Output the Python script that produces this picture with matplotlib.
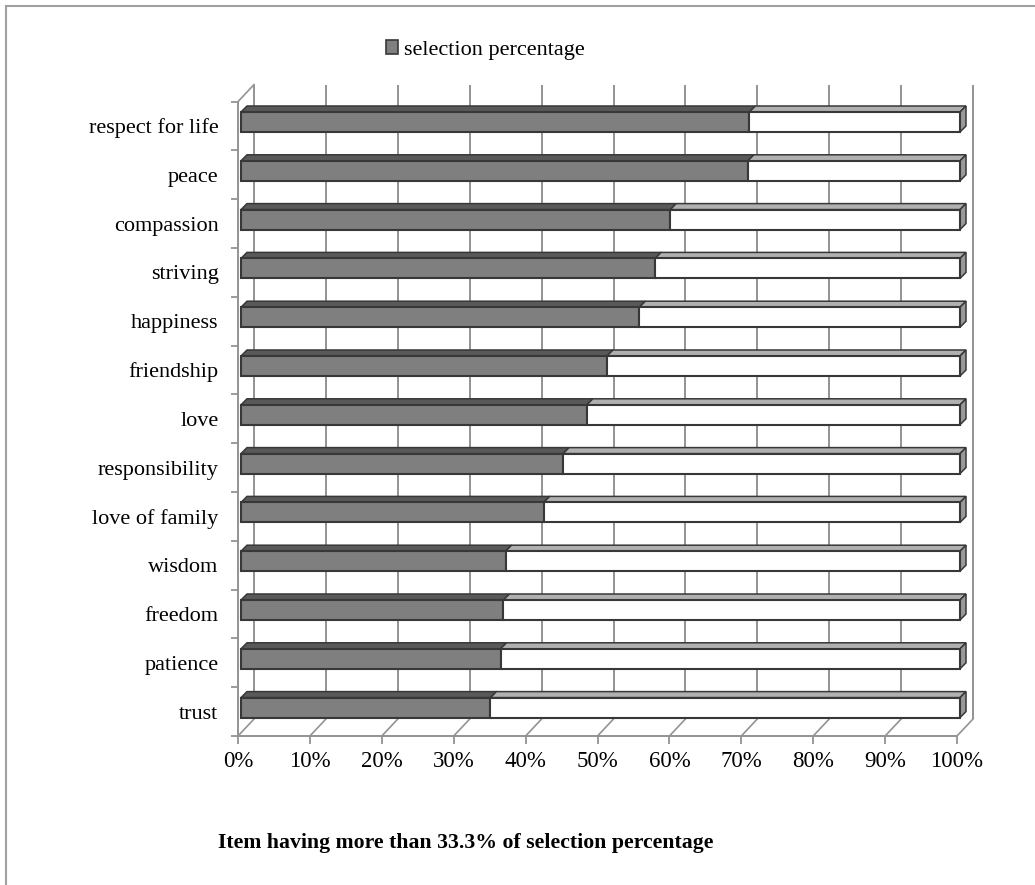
import matplotlib
matplotlib.use("Agg")
import matplotlib.pyplot as plt
from matplotlib.patches import Polygon, Patch
from matplotlib.lines import Line2D

plt.rcParams["font.family"] = ["Liberation Serif", "DejaVu Serif"]

# ── data ──────────────────────────────────────────────────────────────────────
items = ["respect for life", "peace", "compassion", "striving", "happiness",
         "friendship", "love", "responsibility", "love of family", "wisdom",
         "freedom", "patience", "trust"]
selection_pct = [70.7, 70.5, 59.7, 57.6, 55.4, 50.9, 48.1, 44.8, 42.1,
                 36.8, 36.5, 36.1, 34.7]
x_ticks = [0, 10, 20, 30, 40, 50, 60, 70, 80, 90, 100]
legend_label = "selection percentage"
title = "Item having more than 33.3% of selection percentage"

# ── style ─────────────────────────────────────────────────────────────────────
GRID = "#939393"
EDGE = "#383838"
GRAY_FRONT = "#7f7f7f"
GRAY_TOP = "#595959"
WHITE_TOP = "#b0b0b0"
SIDE = "#999999"

W, H, DPI = 1035, 885, 100
fig = plt.figure(figsize=(W / DPI, H / DPI), dpi=DPI)
fig.patch.set_facecolor("white")

# front plane of the pseudo-3D box, in pixels
ax_l, ax_r, ax_t, ax_b = 238, 957, 101.6, 736
ax = fig.add_axes([ax_l / W, 1 - ax_b / H, (ax_r - ax_l) / W, (ax_b - ax_t) / H])
n = len(items)
ypos = list(range(n))[::-1]
ax.set_xlim(0, 100)
ax.set_ylim(-0.5, n - 0.5)
ax.patch.set_visible(False)

# pixel -> data unit helpers
ux = (ax_r - ax_l) / 100
uy = (ax_b - ax_t) / n
wdx, wdy = 16 / ux, 17 / uy      # wall depth
sx, sy = 3 / ux, 4 / uy          # bar front offset from front plane
bdx, bdy = 6 / ux, 6 / uy        # bar depth
bh = 20 / uy                     # bar front height

# back wall gridlines + floor diagonals
for t in x_ticks:
    ax.plot([t + wdx, t + wdx], [-0.5 + wdy, n - 0.5 + wdy], color=GRID, lw=1.4,
            clip_on=False, zorder=1, solid_capstyle="butt")
    ax.plot([t, t + wdx], [-0.5, -0.5 + wdy], color=GRID, lw=1.2,
            clip_on=False, zorder=1)
ax.plot([0, wdx], [n - 0.5, n - 0.5 + wdy], color=GRID, lw=1.2, clip_on=False, zorder=1)

# bars: front faces
rest = [100 - v for v in selection_pct]
ybar = [y + sy for y in ypos]
ax.barh(ybar, selection_pct, left=sx, height=bh, color=GRAY_FRONT,
        edgecolor=EDGE, lw=1.5, zorder=4, clip_on=False)
ax.barh(ybar, rest, left=[sx + v for v in selection_pct], height=bh, color="white",
        edgecolor=EDGE, lw=1.5, zorder=4, clip_on=False)

# bars: top and side faces
for yc, v in zip(ybar, selection_pct):
    yb, yt = yc - bh / 2, yc + bh / 2
    faces = [
        ([(sx, yt), (sx + v, yt), (sx + v + bdx, yt + bdy), (sx + bdx, yt + bdy)], GRAY_TOP),
        ([(sx + v, yt), (sx + 100, yt), (sx + 100 + bdx, yt + bdy), (sx + v + bdx, yt + bdy)], WHITE_TOP),
        ([(sx + 100, yb), (sx + 100, yt), (sx + 100 + bdx, yt + bdy), (sx + 100 + bdx, yb + bdy)], SIDE),
    ]
    for pts, fc in faces:
        ax.add_patch(Polygon(pts, closed=True, facecolor=fc, edgecolor=EDGE,
                             lw=1.1, zorder=3, clip_on=False))

# axes, ticks, labels
for side in ("top", "right"):
    ax.spines[side].set_visible(False)
for side in ("left", "bottom"):
    ax.spines[side].set_color(GRID)
    ax.spines[side].set_linewidth(1.4)

ax.set_yticks(ypos)
ax.set_yticklabels(items, fontsize=16)
ax.set_yticks([k - 0.5 for k in range(n + 1)], minor=True)
ax.tick_params(axis="y", which="major", length=0, pad=14)
ax.tick_params(axis="y", which="minor", length=5, width=1.3, color=GRID)

ax.set_xticks(x_ticks)
ax.set_xticklabels([f"{t}%" for t in x_ticks], fontsize=16.5)
ax.tick_params(axis="x", length=6, width=1.3, color=GRID, pad=5)

# legend
fig.legend(handles=[Patch(facecolor=GRAY_FRONT, edgecolor=EDGE, lw=1.2)],
           labels=[legend_label], loc="center", bbox_to_anchor=(485 / W, 1 - 50 / H),
           frameon=False, fontsize=16, handlelength=0.55, handleheight=0.55,
           handletextpad=0.25)

# title
fig.text(466 / W, 1 - 843 / H, title, ha="center", va="center",
         fontsize=15.7, fontweight="bold")

# outer frame (left and top edges)
fig.add_artist(Line2D([6 / W, 6 / W], [0, 1 - 6 / H], transform=fig.transFigure,
                      color="#a0a0a0", lw=1.5))
fig.add_artist(Line2D([6 / W, 1], [1 - 6 / H, 1 - 6 / H], transform=fig.transFigure,
                      color="#a0a0a0", lw=1.5))

fig.savefig("out.png", dpi=DPI, facecolor=fig.get_facecolor())
